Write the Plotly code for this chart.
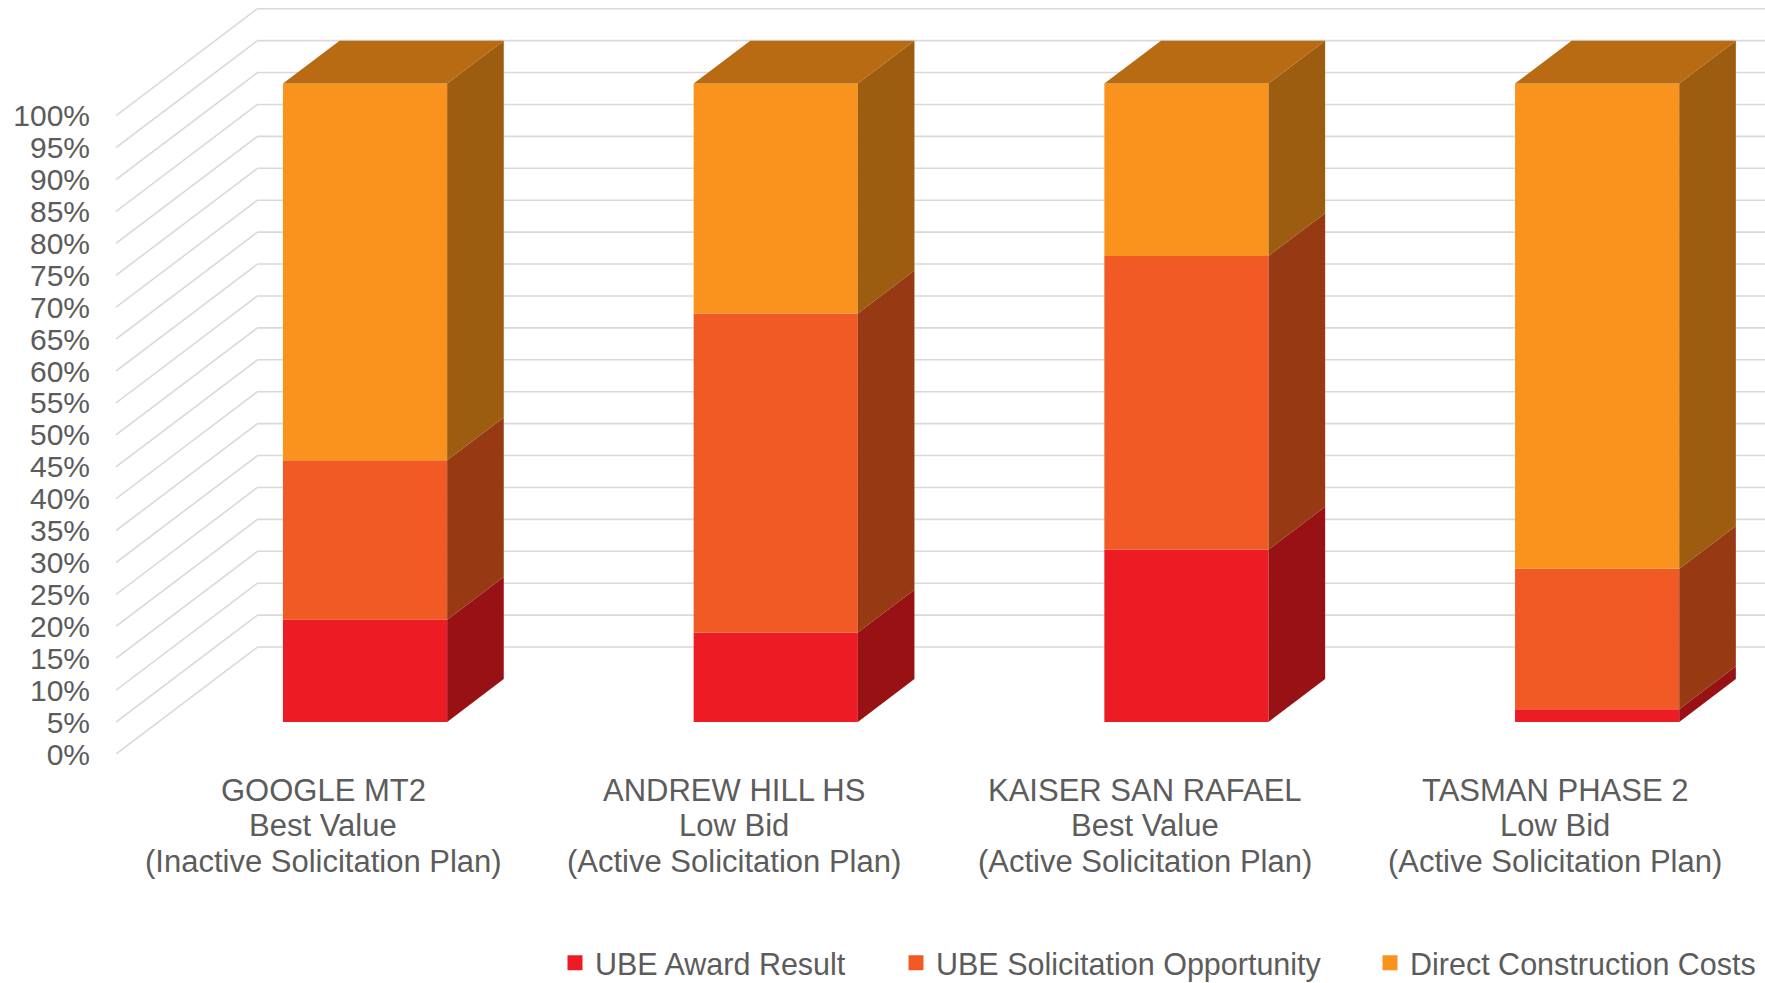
import plotly.graph_objects as go

category_lines = [["GOOGLE MT2", "Best Value", "(Inactive Solicitation Plan)"],
                  ["ANDREW HILL HS", "Low Bid", "(Active Solicitation Plan)"],
                  ["KAISER SAN RAFAEL", "Best Value", "(Active Solicitation Plan)"],
                  ["TASMAN PHASE 2", "Low Bid", "(Active Solicitation Plan)"]]
ube_award = [16, 14, 27, 2]
ube_solicitation = [25, 50, 46, 22]
direct_costs = [59, 36, 27, 76]
series_names = ["UBE Award Result", "UBE Solicitation Opportunity", "Direct Construction Costs"]
front_colors = ["#ED1C24", "#F15A24", "#FA931E"]
side_colors = ["#981215", "#973A14", "#9C5D10"]
top_color = "#B96B13"
grid_color = "#D9D9D9"
text_color = "#5C5C5C"
tick_values = list(range(0, 101, 5))

W, H = 1765, 983
LEFT, BOTTOM = 116, 229
PLOT_H = H - BOTTOM
PX_PER_CAT = 410.7
PX_PER_PCT = 6.383
X0_PX = 322.6
XMIN = (LEFT - X0_PX) / PX_PER_CAT
XMAX = (W - X0_PX) / PX_PER_CAT
YMAX = PLOT_H / PX_PER_PCT
DX = 141.5 / PX_PER_CAT      # full depth of the box, x units
DY = 16.76                   # full depth of the box, percent units
D_FRONT, D_BACK = 0.30, 0.70 # where the bars sit in the depth
BAR_W = 164.2 / PX_PER_CAT
LABEL_SHIFT = 0.5 / PX_PER_CAT
LABEL_LINE_Y = [790, 825.5, 861]
LEGEND_X = [555, 896, 1370]
LEGEND_Y = 963

fig = go.Figure()
series = [ube_award, ube_solicitation, direct_costs]
n = len(category_lines)
xs = [i + D_FRONT * DX for i in range(n)]
off = D_FRONT * DY
dd = D_BACK - D_FRONT

# front faces, on the library's bar scale
bases = [0.0] * n
all_bases = []
for s, name, col in zip(series, series_names, front_colors):
    all_bases.append(list(bases))
    fig.add_trace(go.Bar(x=xs, y=s, base=[b + off for b in bases], width=BAR_W,
                         marker=dict(color=col, line=dict(width=0)),
                         name=name, showlegend=False))
    bases = [b + v for b, v in zip(bases, s)]

# right side faces
for s, b0, name, col in zip(series, all_bases, series_names, side_colors):
    px, py = [], []
    for i in range(n):
        xr = xs[i] + BAR_W / 2
        lo = b0[i] + off
        hi = lo + s[i]
        px += [xr, xr, xr + dd * DX, xr + dd * DX, xr, None]
        py += [lo, hi, hi + dd * DY, lo + dd * DY, lo, None]
    fig.add_trace(go.Scatter(x=px, y=py, mode="lines", fill="toself", fillcolor=col,
                             line=dict(width=0, color=col), name=name + " side",
                             showlegend=False, hoverinfo="skip"))

# top faces
px, py = [], []
for i in range(n):
    xl, xr = xs[i] - BAR_W / 2, xs[i] + BAR_W / 2
    t = bases[i] + off
    px += [xl, xr, xr + dd * DX, xl + dd * DX, xl, None]
    py += [t, t, t + dd * DY, t + dd * DY, t, None]
fig.add_trace(go.Scatter(x=px, y=py, mode="lines", fill="toself", fillcolor=top_color,
                         line=dict(width=0, color=top_color), name="Top",
                         showlegend=False, hoverinfo="skip"))

# legend entries, one legend each so that they can sit at their own places
legend_ids = ["legend", "legend2", "legend3"]
for name, col, lid in zip(series_names, front_colors, legend_ids):
    fig.add_trace(go.Scatter(x=[None], y=[None], mode="markers", name=name, legend=lid,
                             showlegend=True,
                             marker=dict(symbol="square", size=15, color=col)))

# side-wall and back-wall gridlines
for v in tick_values:
    line = dict(color=grid_color, width=1.6)
    fig.add_shape(type="line", xref="x", yref="y", layer="below", line=line,
                  x0=XMIN, y0=v, x1=XMIN + DX, y1=v + DY)
    fig.add_shape(type="line", xref="x", yref="y", layer="below", line=line,
                  x0=XMIN + DX, y0=v + DY, x1=XMAX, y1=v + DY)

font = "Liberation Sans, Arial, sans-serif"

# category labels, line by line
for i, lines in enumerate(category_lines):
    for text, py_px in zip(lines, LABEL_LINE_Y):
        fig.add_annotation(text=text, x=i + LABEL_SHIFT, xref="x",
                           y=(PLOT_H - py_px) / PLOT_H, yref="paper",
                           xanchor="center", yanchor="middle", showarrow=False,
                           font=dict(size=31, color=text_color, family=font))

legend_common = dict(orientation="h", xanchor="left", yanchor="middle",
                     y=(PLOT_H - LEGEND_Y) / PLOT_H, bgcolor="rgba(0,0,0,0)",
                     font=dict(size=30.5, color=text_color, family=font))

fig.update_layout(
    width=W, height=H, autosize=False,
    margin=dict(l=LEFT, r=0, t=0, b=BOTTOM, pad=0, autoexpand=False),
    paper_bgcolor="white", plot_bgcolor="white",
    barmode="overlay",
    font=dict(family=font, color=text_color, size=27),
    xaxis=dict(range=[XMIN, XMAX], showticklabels=False, showgrid=False, zeroline=False,
               showline=False, ticks=""),
    yaxis=dict(range=[0, YMAX], tickmode="array", tickvals=tick_values,
               ticktext=[f"{v}%" for v in tick_values], showgrid=False, zeroline=False,
               showline=False, ticks="", ticklabelstandoff=25,
               tickfont=dict(size=30, color=text_color, family=font)),
    legend=dict(x=(LEGEND_X[0] - LEFT) / (W - LEFT), **legend_common),
    legend2=dict(x=(LEGEND_X[1] - LEFT) / (W - LEFT), **legend_common),
    legend3=dict(x=(LEGEND_X[2] - LEFT) / (W - LEFT), **legend_common),
)
fig.write_html("out.html", config={"displayModeBar": False},
               post_script="document.body.style.margin='0';")
